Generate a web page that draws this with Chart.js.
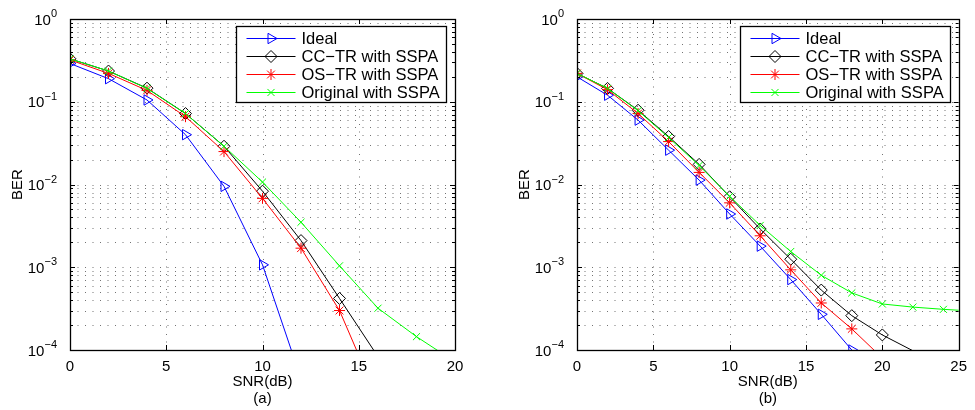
<!DOCTYPE html>
<html>
<head>
<meta charset="utf-8">
<script src="https://cdn.jsdelivr.net/npm/chart.js@4"></script>
<style>
  body { margin: 0; background: #fff; }
  #wrap { display: flex; width: 975px; height: 410px; }
  canvas { display: block; }
</style>
</head>
<body>
<div id="wrap">
  <canvas id="chart-a" width="480" height="410"></canvas>
  <canvas id="chart-b" width="495" height="410"></canvas>
</div>
<script>
// Series names, in plotting order
const seriesNames = ["Ideal", "CC\u2212TR with SSPA", "OS\u2212TR with SSPA", "Original with SSPA"];

// Panel (a): SNR in dB and BER
const snrA      = [0, 2, 4, 6, 8, 10, 12, 14, 16, 18, 20];
const idealA    = [0.29, 0.19, 0.105, 0.04, 0.0095, 0.00107, 4.5e-5];
const ccTrA     = [0.33, 0.235, 0.146, 0.072, 0.029, 0.0083, 0.0021, 4.2e-4, 8.3e-5];
const osTrA     = [0.32, 0.22, 0.137, 0.066, 0.025, 0.0068, 0.0017, 3.0e-4, 2.5e-5];
const originalA = [0.33, 0.235, 0.145, 0.072, 0.029, 0.0107, 0.0035, 1.04e-3, 3.2e-4, 1.45e-4, 7.2e-5];

// Panel (b)
const snrB      = [0, 2, 4, 6, 8, 10, 12, 14, 16, 18, 20, 22, 24, 26];
const idealB    = [0.2, 0.12, 0.06, 0.026, 0.0113, 0.0044, 0.0018, 7.1e-4, 2.7e-4, 1.0e-4, 3.5e-5];
const ccTrB     = [0.22, 0.145, 0.079, 0.038, 0.0175, 0.0071, 0.0029, 1.25e-3, 5.3e-4, 2.6e-4, 1.52e-4, 9.8e-5, 6e-5];
const osTrB     = [0.22, 0.14, 0.072, 0.033, 0.014, 0.006, 0.0024, 9.3e-4, 3.7e-4, 1.8e-4, 8e-5];
const originalB = [0.22, 0.145, 0.078, 0.037, 0.017, 0.0072, 0.0032, 1.55e-3, 8e-4, 4.9e-4, 3.6e-4, 3.3e-4, 3.1e-4, 2.95e-4];

// Axis ticks
const yExponents = [-4, -3, -2, -1, 0];
const xTicksA = [0, 5, 10, 15, 20];
const xTicksB = [0, 5, 10, 15, 20, 25];

const Y_MIN = 1e-4, Y_MAX = 1;

// Line/marker look for each series (MATLAB style)
const seriesStyles = [
  { color: "#0000ff", pointStyle: "triangle", rotation: 90, radius: 6 },
  { color: "#000000", pointStyle: "rectRot",  rotation: 0,  radius: 6 },
  { color: "#ff0000", pointStyle: "star",     rotation: 0,  radius: 5.5 },
  { color: "#00ff00", pointStyle: "crossRot", rotation: 0,  radius: 5 }
];

const FONT = '"Liberation Sans", Arial, sans-serif';
Chart.defaults.font.family = FONT;
Chart.defaults.font.size = 15;
Chart.defaults.color = "#000";

function makeDatasets(xs, seriesList) {
  return seriesList.map((vals, i) => {
    const st = seriesStyles[i];
    return {
      label: seriesNames[i],
      data: vals.map((v, k) => ({ x: xs[k], y: v })),
      borderColor: st.color,
      borderWidth: 1,
      pointStyle: st.pointStyle,
      rotation: st.rotation,
      // like MATLAB, a marker whose centre lies outside the axes is not drawn
      pointRadius: c => (c.raw && c.raw.y < Y_MIN * 0.999 ? 0 : st.radius),
      pointBorderColor: st.color,
      pointBackgroundColor: "rgba(0,0,0,0)",
      pointBorderWidth: 1,
      tension: 0,
      order: seriesList.length - i   // later series drawn on top, as in MATLAB
    };
  });
}

// Dotted grid, boxed axes with inward ticks, 10^n labels and the legend inside the plot
const matlabFrame = {
  id: "matlabFrame",
  beforeDatasetsDraw(chart) {
    const { ctx, chartArea: a, scales: { x, y } } = chart;
    ctx.save();
    ctx.strokeStyle = "rgba(0,0,0,0.55)";
    ctx.lineWidth = 1;
    ctx.setLineDash([1, 6.5]);
    y.ticks.forEach(t => {
      const py = Math.round(y.getPixelForValue(t.value)) + 0.5;
      if (py <= a.top + 2 || py >= a.bottom - 2) return;
      ctx.beginPath(); ctx.moveTo(a.left, py); ctx.lineTo(a.right, py); ctx.stroke();
    });
    x.ticks.forEach(t => {
      const px = Math.round(x.getPixelForValue(t.value)) + 0.5;
      if (px <= a.left + 2 || px >= a.right - 2) return;
      ctx.beginPath(); ctx.moveTo(px, a.top); ctx.lineTo(px, a.bottom); ctx.stroke();
    });
    ctx.restore();
  },
  afterDatasetsDraw(chart) {
    const { ctx, chartArea: a, scales: { x, y } } = chart;
    ctx.save();
    ctx.strokeStyle = "#000";
    ctx.lineWidth = 1;
    // inward tick marks
    y.ticks.forEach(t => {
      const py = Math.round(y.getPixelForValue(t.value)) + 0.5;
      const len = t.major ? 5 : 3;
      ctx.beginPath();
      ctx.moveTo(a.left, py); ctx.lineTo(a.left + len, py);
      ctx.moveTo(a.right, py); ctx.lineTo(a.right - len, py);
      ctx.stroke();
    });
    x.ticks.forEach(t => {
      const px = Math.round(x.getPixelForValue(t.value)) + 0.5;
      ctx.beginPath();
      ctx.moveTo(px, a.bottom); ctx.lineTo(px, a.bottom - 5);
      ctx.moveTo(px, a.top); ctx.lineTo(px, a.top + 5);
      ctx.stroke();
    });
    ctx.lineWidth = 1.3;
    ctx.strokeRect(Math.round(a.left) + 0.5, Math.round(a.top) + 0.5,
                   Math.round(a.right - a.left), Math.round(a.bottom - a.top));

    // y labels: "10" with a raised exponent
    ctx.fillStyle = "#000";
    ctx.textBaseline = "alphabetic";
    yExponents.forEach(e => {
      const py = y.getPixelForValue(Math.pow(10, e));
      const expText = e < 0 ? "\u2212" + (-e) : String(e);
      ctx.font = "11px " + FONT;
      const ew = ctx.measureText(expText).width;
      const right = a.left - 13;
      ctx.textAlign = "left";
      ctx.fillText(expText, right - ew, py - 2);
      ctx.font = "15px " + FONT;
      ctx.textAlign = "right";
      ctx.fillText("10", right - ew, py + 5.5);
    });
    ctx.restore();
  },
  afterDraw(chart) {
    const { ctx, chartArea: a } = chart;
    const w = 210, h = 76;
    const left = Math.round(a.right - 9 - w) + 0.5, top = Math.round(a.top + 7) + 0.5;
    ctx.save();
    ctx.fillStyle = "#fff";
    ctx.fillRect(left, top, w, h);
    ctx.strokeStyle = "#000";
    ctx.lineWidth = 1.3;
    ctx.strokeRect(left, top, w, h);
    ctx.font = "16.5px " + FONT;
    ctx.textBaseline = "middle";
    chart.data.datasets.forEach((ds, i) => {
      const st = seriesStyles[i];
      const ry = Math.round(top + 11 + i * 18) + 0.5;
      ctx.strokeStyle = st.color;
      ctx.lineWidth = 1;
      ctx.beginPath(); ctx.moveTo(left + 10, ry); ctx.lineTo(left + 59, ry); ctx.stroke();
      ctx.fillStyle = "rgba(0,0,0,0)";
      Chart.helpers.drawPoint(ctx, {
        pointStyle: st.pointStyle, rotation: st.rotation, radius: st.radius, borderWidth: 1
      }, left + 34.5, ry);
      ctx.fillStyle = "#000";
      ctx.fillText(ds.label, left + 65, ry + 1);
    });
    ctx.restore();
  }
};

function makeChart(id, xs, seriesList, xMax, xTicks, panel, padLeft, padRight) {
  return new Chart(document.getElementById(id), {
    type: "line",
    data: { datasets: makeDatasets(xs, seriesList) },
    options: {
      responsive: false,
      animation: false,
      events: [],
      layout: { padding: { left: padLeft, right: padRight, top: 19, bottom: 0 } },
      plugins: { legend: { display: false }, tooltip: { enabled: false } },
      scales: {
        x: {
          type: "linear",
          min: 0, max: xMax,
          afterBuildTicks: s => { s.ticks = xTicks.map(v => ({ value: v })); },
          afterFit: s => { s.height = 60; },
          grid: { display: false, drawTicks: false },
          border: { display: false },
          ticks: { padding: 8, maxRotation: 0, font: { size: 15 } },
          title: {
            display: true,
            text: ["SNR(dB)", panel],
            font: { size: 15, lineHeight: 1.1 },
            padding: { top: 0, bottom: 3 }
          }
        },
        y: {
          type: "logarithmic",
          min: Y_MIN, max: Y_MAX,
          afterBuildTicks: s => {
            const t = [];
            for (let e = -4; e < 0; e++) {
              for (let m = 1; m < 10; m++) t.push({ value: m * Math.pow(10, e), major: m === 1 });
            }
            t.push({ value: 1, major: true });
            s.ticks = t;
          },
          afterFit: s => { s.width = 70; },
          grid: { display: false, drawTicks: false },
          border: { display: false },
          ticks: { display: false },
          title: {
            display: true,
            text: "BER",
            font: { size: 15, lineHeight: 1.1 },
            padding: { top: 10, bottom: 0 }
          }
        }
      }
    },
    plugins: [matlabFrame]
  });
}

makeChart("chart-a", snrA, [idealA, ccTrA, osTrA, originalA], 20, xTicksA, "(a)", 0, 25);
makeChart("chart-b", snrB, [idealB, ccTrB, osTrB, originalB], 25, xTicksB, "(b)", 27, 13);
</script>
</body>
</html>
